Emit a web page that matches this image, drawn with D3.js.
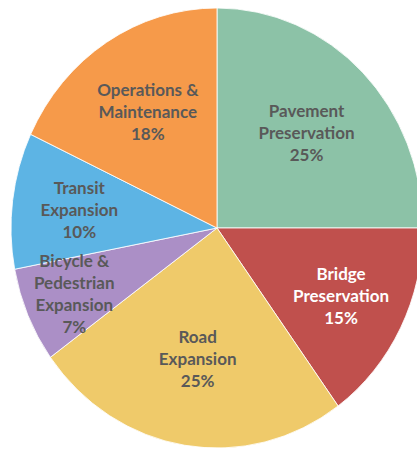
<!DOCTYPE html>
<html>
<head>
<meta charset="utf-8">
<script src="https://cdn.jsdelivr.net/npm/d3@7"></script>
<style>
  html, body { margin: 0; padding: 0; background: #fff; }
  svg { display: block; }
</style>
</head>
<body>
<svg id="chart" width="417" height="451"></svg>
<script>
  // slices, clockwise from 12 o'clock
  const categories = ['Pavement Preservation', 'Bridge Preservation', 'Road Expansion',
    'Bicycle & Pedestrian Expansion', 'Transit Expansion', 'Operations & Maintenance'];
  const labelLines = [
    ['Pavement', 'Preservation'],
    ['Bridge', 'Preservation'],
    ['Road', 'Expansion'],
    ['Bicycle &', 'Pedestrian', 'Expansion'],
    ['Transit', 'Expansion'],
    ['Operations &', 'Maintenance']
  ];
  const values = [25, 15, 25, 7, 10, 18];
  const colors = ['#8cc2a7', '#c0504d', '#efca6a', '#ab8fc6', '#5db4e4', '#f69a4a'];
  const textColors = ['#595959', '#ffffff', '#595959', '#595959', '#595959', '#595959'];
  // how far out along the slice's middle each label sits (fraction of radius)
  const labelRadius = [0.615, 0.676, 0.60, 0.755, 0.674, 0.627];

  const cx = 217, cy = 228;
  const rx = 206, ry = 220;   // the source pie is slightly stretched vertically
  const lineH = 22;

  const svg = d3.select('#chart');

  const pie = d3.pie().sort(null).value(d => d.value);
  const arcs = pie(values.map((v, i) => ({ value: v, i })));
  const arc = d3.arc().innerRadius(0).outerRadius(rx);

  const g = svg.append('g').attr('transform', `translate(${cx},${cy}) scale(1,${ry / rx})`);
  g.selectAll('path').data(arcs).enter().append('path')
    .attr('d', arc)
    .attr('fill', d => colors[d.data.i])
    .attr('stroke', '#ffffff')
    .attr('stroke-width', 0.8)
    .attr('stroke-linejoin', 'round');

  const lg = svg.append('g').attr('transform', `translate(${cx},${cy})`);
  arcs.forEach(d => {
    const a = (d.startAngle + d.endAngle) / 2;
    const f = labelRadius[d.data.i];
    const x = Math.sin(a) * rx * f;
    const y = -Math.cos(a) * ry * f;
    const lines = labelLines[d.data.i].concat([d.data.value + '%']);
    const t = lg.append('text')
      .attr('text-anchor', 'middle')
      .attr('font-family', 'Lato, "Open Sans", sans-serif')
      .attr('font-weight', 'bold')
      .attr('font-size', 17)
      .attr('fill', textColors[d.data.i]);
    lines.forEach((s, k) => {
      t.append('tspan')
        .attr('x', x)
        .attr('y', y + (k - (lines.length - 1) / 2) * lineH)
        .attr('dominant-baseline', 'central')
        .text(s);
    });
  });
</script>
</body>
</html>
